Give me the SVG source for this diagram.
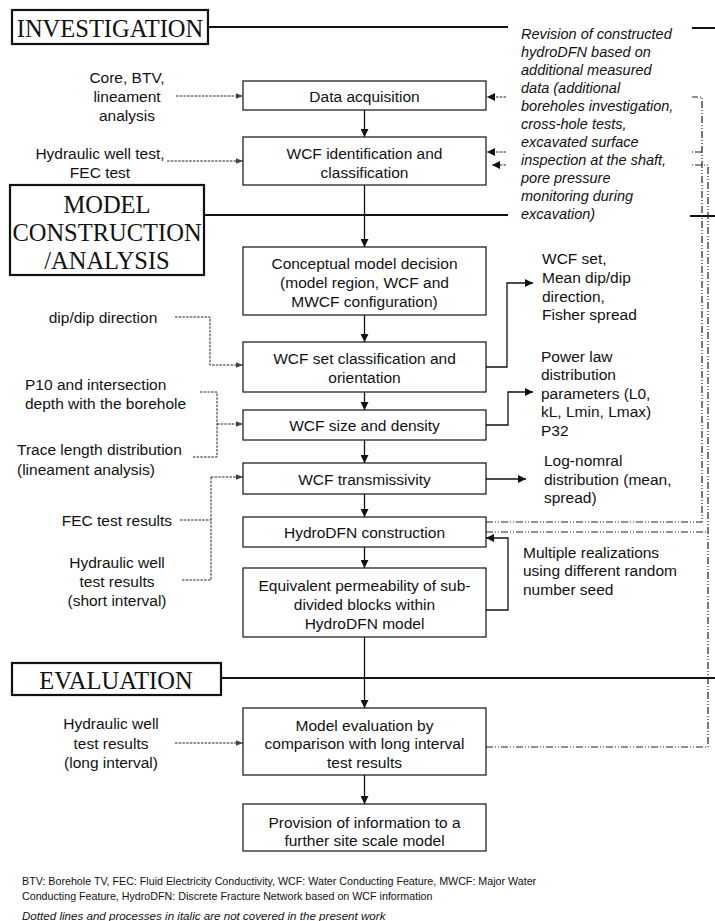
<svg xmlns="http://www.w3.org/2000/svg" width="715" height="921" viewBox="0 0 715 921">
<style>
  text { font-family: "Liberation Sans", Arial, sans-serif; font-size: 15.5px; fill: #111; dominant-baseline: central; }
  .c { text-anchor: middle; }
  .e { text-anchor: end; }
  .it { font-style: italic; font-size: 14.5px; }
  .sec { font-family: "Liberation Serif", "Times New Roman", serif; font-size: 24.5px; text-anchor: middle; }
  .foot { font-size: 10.7px; }
  .footit { font-size: 11.6px; font-style: italic; }
  .box { fill: #fff; stroke: #111; stroke-width: 1.2; }
  .secbox { fill: #fff; stroke: #111; stroke-width: 2.2; }
  .secline { stroke: #111; stroke-width: 2.2; fill: none; }
  .solid { stroke: #111; stroke-width: 1.3; fill: none; }
  .dot { stroke: #222; stroke-width: 1; fill: none; stroke-dasharray: 2.5 1.2; }
  .dd { stroke: #222; stroke-width: 1.2; fill: none; stroke-dasharray: 7 2 1 2 1 2; }
</style>
<defs>
  <marker id="ah" viewBox="0 0 10 10" refX="10" refY="5" markerWidth="8" markerHeight="8" markerUnits="userSpaceOnUse" orient="auto">
    <path d="M0,0 L10,5 L0,10 z" fill="#111"/>
  </marker>
  <marker id="ahd" viewBox="0 0 10 10" refX="10" refY="5" markerWidth="7" markerHeight="7" markerUnits="userSpaceOnUse" orient="auto">
    <path d="M0,1 L10,5 L0,9 z" fill="#444"/>
  </marker>
</defs>

<!-- section headings -->
<g id="sec-investigation">
  <rect class="secbox" x="12" y="10" width="196" height="34"/>
  <text class="sec" x="110" y="28">INVESTIGATION</text>
</g>
<g id="sec-model">
  <rect class="secbox" x="10" y="185" width="194" height="90"/>
  <text class="sec" x="107" y="204">MODEL</text>
  <text class="sec" x="107" y="232">CONSTRUCTION</text>
  <text class="sec" x="107" y="260">/ANALYSIS</text>
</g>
<g id="sec-evaluation">
  <rect class="secbox" x="12" y="663" width="209" height="32"/>
  <text class="sec" x="116" y="680">EVALUATION</text>
</g>

<!-- connectors -->
<g id="connectors">
  <!-- section lines -->
  <path class="secline" d="M208,27 H508 M692,28 H715"/>
  <path class="secline" d="M204,215 H508 M690,216 H715"/>
  <path class="secline" d="M221,678 H715"/>

  <!-- main vertical flow -->
  <path class="solid" marker-end="url(#ah)" d="M364.5,110 V137"/>
  <path class="solid" marker-end="url(#ah)" d="M364.5,185 V247"/>
  <path class="solid" marker-end="url(#ah)" d="M364.5,315 V342"/>
  <path class="solid" marker-end="url(#ah)" d="M364.5,392 V410"/>
  <path class="solid" marker-end="url(#ah)" d="M364.5,440 V463"/>
  <path class="solid" marker-end="url(#ah)" d="M364.5,494 V517"/>
  <path class="solid" marker-end="url(#ah)" d="M364.5,547 V568"/>
  <path class="solid" marker-end="url(#ah)" d="M364.5,637 V708"/>
  <path class="solid" marker-end="url(#ah)" d="M364.5,775 V804"/>

  <!-- outputs -->
  <path class="solid" marker-end="url(#ah)" d="M486,367 H507 V283 H533"/>
  <path class="solid" marker-end="url(#ah)" d="M486,425 H508 V392 H533"/>
  <path class="solid" marker-end="url(#ah)" d="M486,479 H526"/>
  <!-- loop -->
  <path class="solid" marker-end="url(#ah)" d="M486,610 H508 V538 H486"/>

  <!-- dotted inputs -->
  <path class="dot" marker-end="url(#ahd)" d="M176,96 H243"/>
  <path class="dot" marker-end="url(#ahd)" d="M167,161 H243"/>
  <path class="dot" marker-end="url(#ahd)" d="M175,317 H210 V365 H243"/>
  <path class="dot" d="M200,392 H217 V457 H192"/>
  <path class="dot" marker-end="url(#ahd)" d="M217,424 H243"/>
  <path class="dot" d="M180,520 H211 M182,580 H211 V477"/>
  <path class="dot" marker-end="url(#ahd)" d="M211,477 H243"/>
  <path class="dot" marker-end="url(#ahd)" d="M175,743 H243"/>

  <!-- revision feedback (dash-dot) -->
  <path class="dd" d="M486,522 H702 V97 H692"/>
  <path class="dd" d="M702,152 H690"/>
  <path class="dd" d="M486,532 H708"/>
  <path class="dd" d="M486,747 H708 V165 H692"/>
  <path class="dot" marker-end="url(#ah)" d="M506,97 H487"/>
  <path class="dot" marker-end="url(#ah)" d="M506,152 H487"/>
  <path class="dot" marker-end="url(#ah)" d="M506,165 H492"/>
</g>

<!-- process nodes -->
<g id="n-data">
  <rect class="box" x="243" y="81" width="243" height="29"/>
  <text class="c" x="364.5" y="96">Data acquisition</text>
</g>
<g id="n-wcfid">
  <rect class="box" x="243" y="137" width="243" height="48"/>
  <text class="c" x="364.5" y="153">WCF identification and</text>
  <text class="c" x="364.5" y="172">classification</text>
</g>
<g id="n-concept">
  <rect class="box" x="243" y="247" width="243" height="68"/>
  <text class="c" x="364.5" y="263">Conceptual model decision</text>
  <text class="c" x="364.5" y="282">(model region, WCF and</text>
  <text class="c" x="364.5" y="301">MWCF configuration)</text>
</g>
<g id="n-setclass">
  <rect class="box" x="243" y="342" width="243" height="50"/>
  <text class="c" x="364.5" y="358">WCF set classification and</text>
  <text class="c" x="364.5" y="377">orientation</text>
</g>
<g id="n-size">
  <rect class="box" x="243" y="410" width="243" height="30"/>
  <text class="c" x="364.5" y="425">WCF size and density</text>
</g>
<g id="n-trans">
  <rect class="box" x="243" y="463" width="243" height="31"/>
  <text class="c" x="364.5" y="479">WCF transmissivity</text>
</g>
<g id="n-hydrodfn">
  <rect class="box" x="243" y="517" width="243" height="30"/>
  <text class="c" x="364.5" y="532">HydroDFN construction</text>
</g>
<g id="n-equiv">
  <rect class="box" x="243" y="568" width="243" height="69"/>
  <text class="c" x="364.5" y="585">Equivalent permeability of sub-</text>
  <text class="c" x="364.5" y="604">divided blocks within</text>
  <text class="c" x="364.5" y="623">HydroDFN model</text>
</g>
<g id="n-eval">
  <rect class="box" x="243" y="708" width="243" height="67"/>
  <text class="c" x="364.5" y="725">Model evaluation by</text>
  <text class="c" x="364.5" y="743">comparison with long interval</text>
  <text class="c" x="364.5" y="762">test results</text>
</g>
<g id="n-provision">
  <rect class="box" x="243" y="804" width="243" height="47"/>
  <text class="c" x="364.5" y="822">Provision of information to a</text>
  <text class="c" x="364.5" y="840">further site scale model</text>
</g>

<!-- input labels -->
<g id="in-core">
  <text class="c" x="127" y="77">Core, BTV,</text>
  <text class="c" x="127" y="96">lineament</text>
  <text class="c" x="127" y="115">analysis</text>
</g>
<g id="in-hydtest">
  <text class="c" x="100" y="153">Hydraulic well test,</text>
  <text class="c" x="100" y="172">FEC test</text>
</g>
<g id="in-dip">
  <text class="c" x="103" y="317">dip/dip direction</text>
</g>
<g id="in-p10">
  <text x="25" y="384">P10 and intersection</text>
  <text x="25" y="403">depth with the borehole</text>
</g>
<g id="in-trace">
  <text x="17" y="449">Trace length distribution</text>
  <text x="17" y="469">(lineament analysis)</text>
</g>
<g id="in-fec">
  <text class="e" x="172" y="520">FEC test results</text>
</g>
<g id="in-short">
  <text class="c" x="117" y="562">Hydraulic well</text>
  <text class="c" x="117" y="581">test results</text>
  <text class="c" x="117" y="600">(short interval)</text>
</g>
<g id="in-long">
  <text class="c" x="111" y="723">Hydraulic well</text>
  <text class="c" x="111" y="743">test results</text>
  <text class="c" x="111" y="762">(long interval)</text>
</g>

<!-- output labels -->
<g id="out-set">
  <text x="542" y="258">WCF set,</text>
  <text x="542" y="277">Mean dip/dip</text>
  <text x="542" y="296">direction,</text>
  <text x="542" y="314">Fisher spread</text>
</g>
<g id="out-power">
  <text x="541" y="356">Power law</text>
  <text x="541" y="374.5">distribution</text>
  <text x="541" y="393">parameters (L0,</text>
  <text x="541" y="411.5">kL, Lmin, Lmax)</text>
  <text x="541" y="430">P32</text>
</g>
<g id="out-lognormal">
  <text x="544" y="460">Log-nomral</text>
  <text x="544" y="479">distribution (mean,</text>
  <text x="544" y="497">spread)</text>
</g>
<g id="note-multiple">
  <text x="523" y="552">Multiple realizations</text>
  <text x="523" y="570">using different random</text>
  <text x="523" y="589">number seed</text>
</g>
<g id="note-revision">
  <text class="it" x="521" y="34">Revision of constructed</text>
  <text class="it" x="521" y="52">hydroDFN based on</text>
  <text class="it" x="521" y="70">additional measured</text>
  <text class="it" x="521" y="88">data (additional</text>
  <text class="it" x="521" y="106">boreholes investigation,</text>
  <text class="it" x="521" y="124">cross-hole tests,</text>
  <text class="it" x="521" y="142">excavated surface</text>
  <text class="it" x="521" y="160">inspection at the shaft,</text>
  <text class="it" x="521" y="178">pore pressure</text>
  <text class="it" x="521" y="196">monitoring during</text>
  <text class="it" x="521" y="214">excavation)</text>
</g>

<!-- footnotes -->
<g id="footnote">
  <text class="foot" x="22" y="881">BTV: Borehole TV, FEC: Fluid Electricity Conductivity, WCF: Water Conducting Feature, MWCF: Major Water</text>
  <text class="foot" x="22" y="896">Conducting Feature, HydroDFN: Discrete Fracture Network based on WCF information</text>
  <text class="footit" x="22" y="915">Dotted lines and processes in italic are not covered in the present work</text>
</g>
</svg>
